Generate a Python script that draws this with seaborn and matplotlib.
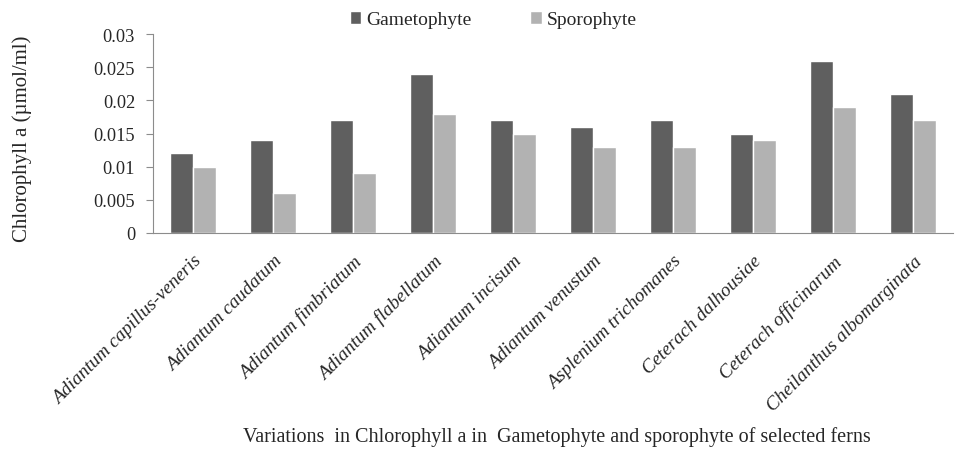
import numpy as np
import pandas as pd
import seaborn as sns
import matplotlib.pyplot as plt
from matplotlib.ticker import FixedLocator

species = ['Adiantum capillus-veneris', 'Adiantum caudatum', 'Adiantum fimbriatum',
           'Adiantum flabellatum', 'Adiantum incisum', 'Adiantum venustum',
           'Asplenium trichomanes', 'Ceterach dalhousiae', 'Ceterach officinarum',
           'Cheilanthus albomarginata']
gametophyte = [0.012, 0.014, 0.017, 0.024, 0.017, 0.016, 0.017, 0.015, 0.026, 0.021]
sporophyte = [0.010, 0.006, 0.009, 0.018, 0.015, 0.013, 0.013, 0.014, 0.019, 0.017]
y_ticks = [0, 0.005, 0.01, 0.015, 0.02, 0.025, 0.03]
y_tick_labels = ['0', '0.005', '0.01', '0.015', '0.02', '0.025', '0.03']

df = pd.DataFrame({'Species': species * 2,
                   'Stage': ['Gametophyte'] * len(species) + ['Sporophyte'] * len(species),
                   'Value': gametophyte + sporophyte})

sns.set_style('white')
plt.rcParams['font.family'] = ['Liberation Serif', 'DejaVu Serif']

fig = plt.figure(figsize=(9.57, 4.56), dpi=100)
ax = fig.add_axes([0.160, 0.487, 0.836, 0.436])

sns.barplot(data=df, x='Species', y='Value', hue='Stage',
            palette={'Gametophyte': '#5f5f5f', 'Sporophyte': '#b2b2b2'},
            width=0.58, gap=0, saturation=1, ax=ax, legend=True)

ax.set_ylim(0, 0.03)
ax.set_xlim(-0.5, len(species) - 0.5)
ax.set_yticks(y_ticks)
ax.set_yticklabels(y_tick_labels, fontsize=13.2)
ax.set_xticks(range(len(species)))
ax.set_xticklabels(species, rotation=45, ha='right', rotation_mode='anchor',
                   fontsize=13.8, style='italic')
ax.xaxis.set_minor_locator(FixedLocator(np.arange(-0.5, len(species), 1)))
ax.tick_params(axis='x', which='major', length=0, pad=14)
ax.tick_params(axis='x', which='minor', length=5, color='#8c8c8c', width=0.8, direction='out')
ax.tick_params(axis='y', length=5, color='#8c8c8c', width=0.8, direction='out', left=True, pad=8)

for s in ['top', 'right']:
    ax.spines[s].set_visible(False)
for s in ['left', 'bottom']:
    ax.spines[s].set_color('#8c8c8c')
    ax.spines[s].set_linewidth(0.8)

ax.set_ylabel('Chlorophyll a (µmol/ml)', fontsize=15)
ax.yaxis.set_label_coords(-0.152, 0.48)
ax.set_xlabel('')
fig.text(0.582, 0.042, 'Variations  in Chlorophyll a in  Gametophyte and sporophyte of selected ferns',
         ha='center', va='center', fontsize=14.5)

ax.legend(title=None, loc='lower center', bbox_to_anchor=(0.425, 0.99), ncol=2,
          frameon=False, fontsize=14, handlelength=0.6, handleheight=0.6,
          handletextpad=0.25, columnspacing=3.0, borderaxespad=0.0)

fig.savefig('out.png', dpi=100)
